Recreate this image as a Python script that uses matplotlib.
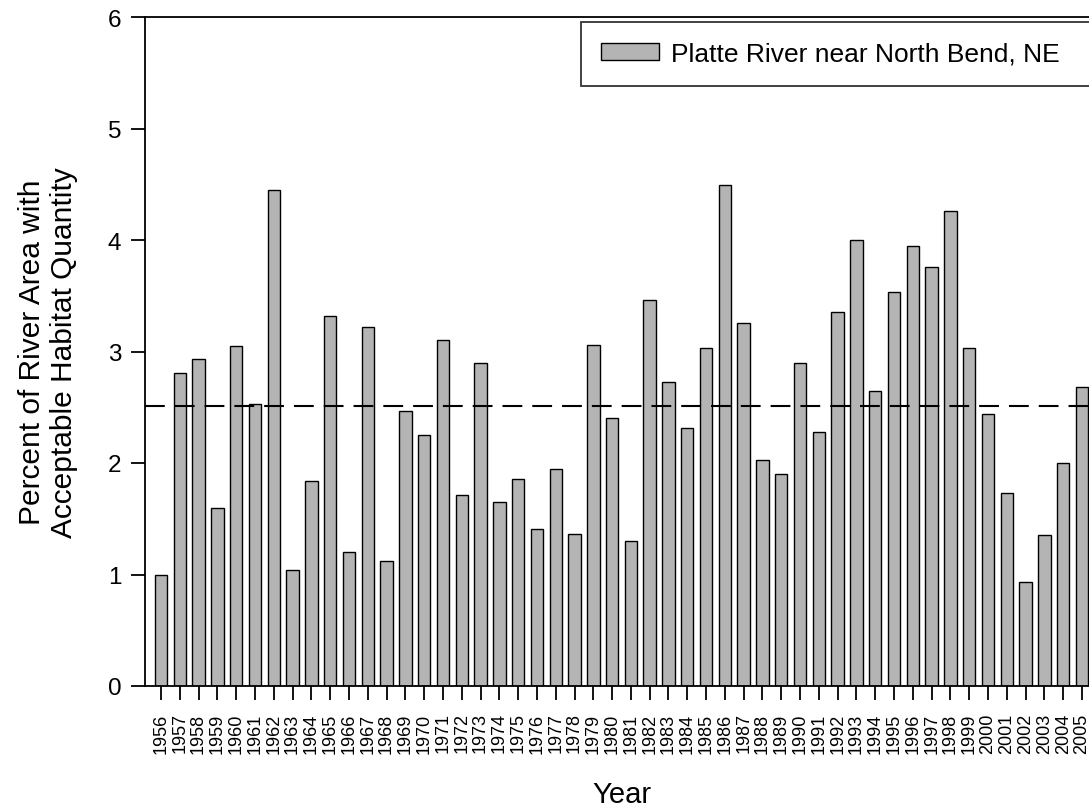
import numpy as np
import matplotlib
matplotlib.use("Agg")
import matplotlib.pyplot as plt

plt.rcParams['font.family'] = ['Liberation Sans', 'DejaVu Sans']

years = list(range(1956, 2006))
pct_area = [1.00, 2.81, 2.93, 1.60, 3.05, 2.53, 4.45, 1.04, 1.84, 3.32,
            1.20, 3.22, 1.12, 2.47, 2.25, 3.10, 1.71, 2.90, 1.65, 1.86,
            1.41, 1.95, 1.36, 3.06, 2.40, 1.30, 3.46, 2.73, 2.31, 3.03,
            4.49, 3.26, 2.03, 1.90, 2.90, 2.28, 3.35, 4.00, 2.65, 3.53,
            3.95, 3.76, 4.26, 3.03, 2.44, 1.73, 0.93, 1.35, 2.00, 2.68]
mean_pct = 2.51
series_name = "Platte River near North Bend, NE"

W, H = 1089, 812
fig = plt.figure(figsize=(W / 100, H / 100), dpi=100)
# axes run a little past the right edge of the figure
ax = fig.add_axes([145 / W, 125 / H, 953 / W, 669 / H])

x = np.arange(len(years))
ax.bar(x, pct_area, width=0.66, color='#b4b4b4', edgecolor='black',
       linewidth=1.0, label=series_name, zorder=2)
ax.axhline(mean_pct, color='black', lw=1.5, linestyle=(0, (9.5, 4.8)), zorder=3)

ax.set_xlim(-0.85, len(years) - 0.15)
ax.set_ylim(0, 6)
ax.set_xticks(x)
ax.set_xticklabels([str(y) for y in years], rotation=90, fontsize=13)
ax.set_yticks(range(7))
ax.tick_params(axis='y', direction='out', length=10, width=1.3, labelsize=17.5, pad=7)
ax.tick_params(axis='x', direction='out', length=10, width=1.3, pad=9)
for s in ax.spines.values():
    s.set_linewidth(1.3)

ax.set_ylabel("Percent of River Area with\nAcceptable Habitat Quantity", fontsize=21.5,
              linespacing=1.2)
ax.yaxis.set_label_coords(-0.07, 0.5)
ax.set_xlabel("Year", fontsize=21)
ax.xaxis.set_label_coords(0.5, -0.14)

# legend box stretched so it runs off the right side
leg = ax.legend(loc='upper left', bbox_to_anchor=(0.4575, 0.0, 0.56, 0.9925),
                mode='expand', fontsize=19, frameon=True, fancybox=False,
                edgecolor='black', handlelength=2.2, handleheight=0.57,
                borderpad=0.75, borderaxespad=0, handletextpad=0.45)
leg.get_frame().set_linewidth(1.3)

fig.savefig("out.png", dpi=100)
